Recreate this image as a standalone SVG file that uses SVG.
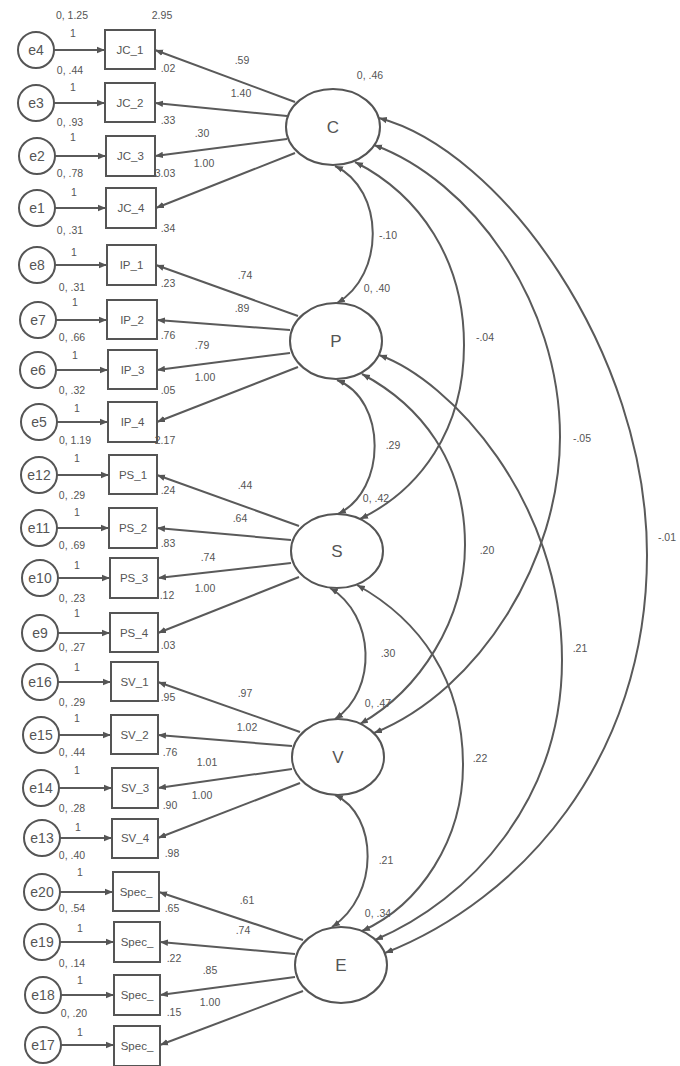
<svg xmlns="http://www.w3.org/2000/svg" width="680" height="1066" viewBox="0 0 680 1066">
<style>
text{font-family:"Liberation Sans",Arial,sans-serif;fill:#555;text-anchor:middle;dominant-baseline:central}
.n{font-size:10.5px}
.bt{font-size:11.5px}
.et{font-size:14px}
.lt{font-size:17px}
.err circle{fill:#fff;stroke:#555;stroke-width:2}
.obs rect{fill:#fff;stroke:#555;stroke-width:2}
.lat ellipse{fill:#fff;stroke:#555;stroke-width:2}
.cn line,.cn path{fill:none;stroke:#5a5a5a;stroke-width:2;marker-end:url(#ah)}
.cn .cv{marker-start:url(#ah)}
</style>
<defs>
<marker id="ah" viewBox="0 0 10 10" refX="10" refY="5" markerUnits="userSpaceOnUse" markerWidth="8" markerHeight="8" orient="auto-start-reverse"><path d="M0,1 L10,5 L0,9 z" fill="#555"/></marker>
</defs>
<rect width="680" height="1066" fill="#fff"/>

<g id="connectors" class="cn">
<!-- error to observed -->
<line x1="54" y1="50" x2="105" y2="50"/>
<line x1="54" y1="103" x2="105" y2="103"/>
<line x1="55" y1="156" x2="106" y2="156"/>
<line x1="55" y1="208" x2="106" y2="208"/>
<line x1="55" y1="265" x2="107" y2="265"/>
<line x1="56" y1="320" x2="107" y2="320"/>
<line x1="56" y1="370" x2="108" y2="370"/>
<line x1="57" y1="422" x2="108" y2="422"/>
<line x1="57" y1="475" x2="109" y2="475"/>
<line x1="57" y1="528" x2="109" y2="528"/>
<line x1="58" y1="578" x2="110" y2="578"/>
<line x1="58" y1="633" x2="110" y2="633"/>
<line x1="58" y1="682" x2="111" y2="682"/>
<line x1="59" y1="735" x2="111" y2="735"/>
<line x1="59" y1="788" x2="112" y2="788"/>
<line x1="60" y1="838" x2="112" y2="838"/>
<line x1="60" y1="892" x2="113" y2="892"/>
<line x1="60" y1="942" x2="114" y2="942"/>
<line x1="61" y1="995" x2="114" y2="995"/>
<line x1="61" y1="1045" x2="114" y2="1045"/>
<!-- loadings -->
<line x1="295" y1="102" x2="155" y2="50"/>
<line x1="287" y1="116" x2="155" y2="103"/>
<line x1="287" y1="139" x2="155" y2="156"/>
<line x1="295" y1="153" x2="156" y2="208"/>
<line x1="298" y1="316" x2="156" y2="265"/>
<line x1="290" y1="330" x2="157" y2="320"/>
<line x1="290" y1="353" x2="157" y2="370"/>
<line x1="298" y1="367" x2="157" y2="422"/>
<line x1="299" y1="526" x2="157" y2="475"/>
<line x1="291" y1="540" x2="157" y2="528"/>
<line x1="291" y1="563" x2="158" y2="578"/>
<line x1="299" y1="577" x2="158" y2="633"/>
<line x1="300" y1="732" x2="158" y2="682"/>
<line x1="292" y1="746" x2="158" y2="735"/>
<line x1="292" y1="769" x2="158" y2="788"/>
<line x1="300" y1="783" x2="158" y2="838"/>
<line x1="303" y1="940" x2="159" y2="892"/>
<line x1="295" y1="954" x2="160" y2="942"/>
<line x1="295" y1="977" x2="160" y2="995"/>
<line x1="303" y1="991" x2="160" y2="1045"/>
<!-- covariances -->
<path class="cv" d="M335,166 C385,190 385,275 337,303"/>
<path class="cv" d="M337,380 C387,400 387,490 338,514"/>
<path class="cv" d="M330,588 C375,615 378,690 335,719"/>
<path class="cv" d="M335,795 C378,815 380,895 332,927"/>
<path class="cv" d="M355,162 C420,195 464,260 464,345 C464,430 420,490 360,519"/>
<path class="cv" d="M362,374 C420,405 465,460 465,545 C465,620 420,690 360,724"/>
<path class="cv" d="M357,585 C420,620 463,680 463,765 C463,840 420,905 362,931"/>
<path class="cv" d="M374,145 C470,180 560,300 560,437 C560,560 480,690 374,733"/>
<path class="cv" d="M379,355 C450,380 562,500 562,660 C562,800 470,900 375,940"/>
<path class="cv" d="M379,118 C500,150 647,350 647,555 C647,760 520,900 385,953"/>
</g>

<g id="latents" class="lat">
<g id="C"><ellipse cx="333" cy="127" rx="47" ry="38"/><text class="lt" x="333" y="127">C</text></g>
<g id="P"><ellipse cx="336" cy="341" rx="46" ry="38"/><text class="lt" x="336" y="341">P</text></g>
<g id="S"><ellipse cx="337" cy="551" rx="46" ry="37"/><text class="lt" x="337" y="551">S</text></g>
<g id="V"><ellipse cx="338" cy="757" rx="46" ry="38"/><text class="lt" x="338" y="757">V</text></g>
<g id="E"><ellipse cx="341" cy="965" rx="46" ry="38"/><text class="lt" x="341" y="965">E</text></g>
</g>

<g id="observed" class="obs">
<g id="JC_1"><rect x="105" y="30" width="50" height="39"/><text class="bt" x="130" y="50">JC_1</text></g>
<g id="JC_2"><rect x="105" y="83" width="50" height="39"/><text class="bt" x="130" y="103">JC_2</text></g>
<g id="JC_3"><rect x="106" y="136" width="49" height="40"/><text class="bt" x="130.5" y="156">JC_3</text></g>
<g id="JC_4"><rect x="106" y="188" width="50" height="40"/><text class="bt" x="131" y="208">JC_4</text></g>
<g id="IP_1"><rect x="107" y="245" width="49" height="40"/><text class="bt" x="131.5" y="265">IP_1</text></g>
<g id="IP_2"><rect x="107" y="300" width="50" height="39"/><text class="bt" x="132" y="320">IP_2</text></g>
<g id="IP_3"><rect x="108" y="350" width="49" height="39"/><text class="bt" x="132.5" y="370">IP_3</text></g>
<g id="IP_4"><rect x="108" y="402" width="49" height="40"/><text class="bt" x="132.5" y="422">IP_4</text></g>
<g id="PS_1"><rect x="109" y="455" width="48" height="39"/><text class="bt" x="133" y="475">PS_1</text></g>
<g id="PS_2"><rect x="109" y="508" width="48" height="40"/><text class="bt" x="133" y="528">PS_2</text></g>
<g id="PS_3"><rect x="110" y="558" width="48" height="40"/><text class="bt" x="134" y="578">PS_3</text></g>
<g id="PS_4"><rect x="110" y="613" width="48" height="39"/><text class="bt" x="134" y="633">PS_4</text></g>
<g id="SV_1"><rect x="111" y="662" width="47" height="39"/><text class="bt" x="134.5" y="682">SV_1</text></g>
<g id="SV_2"><rect x="111" y="715" width="47" height="39"/><text class="bt" x="134.5" y="735">SV_2</text></g>
<g id="SV_3"><rect x="112" y="768" width="46" height="40"/><text class="bt" x="135" y="788">SV_3</text></g>
<g id="SV_4"><rect x="112" y="819" width="46" height="39"/><text class="bt" x="135" y="838">SV_4</text></g>
<g id="Spec_1"><rect x="113" y="872" width="46" height="39"/><text class="bt" x="136" y="892">Spec_</text></g>
<g id="Spec_2"><rect x="114" y="922" width="46" height="40"/><text class="bt" x="137" y="942">Spec_</text></g>
<g id="Spec_3"><rect x="114" y="975" width="46" height="40"/><text class="bt" x="137" y="995">Spec_</text></g>
<g id="Spec_4"><rect x="114" y="1026" width="46" height="40"/><text class="bt" x="137" y="1046">Spec_</text></g>
</g>

<g id="errors" class="err">
<g id="e4"><circle cx="36" cy="50" r="18"/><text class="et" x="36" y="50">e4</text></g>
<g id="e3"><circle cx="36" cy="103" r="18"/><text class="et" x="36" y="103">e3</text></g>
<g id="e2"><circle cx="37" cy="156" r="18"/><text class="et" x="37" y="156">e2</text></g>
<g id="e1"><circle cx="37" cy="208" r="18"/><text class="et" x="37" y="208">e1</text></g>
<g id="e8"><circle cx="37" cy="265" r="18"/><text class="et" x="37" y="265">e8</text></g>
<g id="e7"><circle cx="38" cy="320" r="18"/><text class="et" x="38" y="320">e7</text></g>
<g id="e6"><circle cx="38" cy="370" r="18"/><text class="et" x="38" y="370">e6</text></g>
<g id="e5"><circle cx="39" cy="422" r="18"/><text class="et" x="39" y="422">e5</text></g>
<g id="e12"><circle cx="39" cy="475" r="18"/><text class="et" x="39" y="475">e12</text></g>
<g id="e11"><circle cx="39" cy="528" r="18"/><text class="et" x="39" y="528">e11</text></g>
<g id="e10"><circle cx="40" cy="578" r="18"/><text class="et" x="40" y="578">e10</text></g>
<g id="e9"><circle cx="40" cy="633" r="18"/><text class="et" x="40" y="633">e9</text></g>
<g id="e16"><circle cx="40" cy="682" r="18"/><text class="et" x="40" y="682">e16</text></g>
<g id="e15"><circle cx="41" cy="735" r="18"/><text class="et" x="41" y="735">e15</text></g>
<g id="e14"><circle cx="41" cy="788" r="18"/><text class="et" x="41" y="788">e14</text></g>
<g id="e13"><circle cx="42" cy="838" r="18"/><text class="et" x="42" y="838">e13</text></g>
<g id="e20"><circle cx="42" cy="892" r="18"/><text class="et" x="42" y="892">e20</text></g>
<g id="e19"><circle cx="42" cy="942" r="18"/><text class="et" x="42" y="942">e19</text></g>
<g id="e18"><circle cx="43" cy="995" r="18"/><text class="et" x="43" y="995">e18</text></g>
<g id="e17"><circle cx="43" cy="1045" r="18"/><text class="et" x="43" y="1045">e17</text></g>
</g>

<g id="labels" class="n">
<!-- error variances -->
<text class="n" x="72" y="15">0, 1.25</text>
<text class="n" x="70" y="70">0, .44</text>
<text class="n" x="70" y="122">0, .93</text>
<text class="n" x="70" y="173">0, .78</text>
<text class="n" x="70" y="230">0, .31</text>
<text class="n" x="72" y="287">0, .31</text>
<text class="n" x="72" y="337">0, .66</text>
<text class="n" x="72" y="390">0, .32</text>
<text class="n" x="75" y="440">0, 1.19</text>
<text class="n" x="72" y="495">0, .29</text>
<text class="n" x="72" y="545">0, .69</text>
<text class="n" x="72" y="598">0, .23</text>
<text class="n" x="72" y="647">0, .27</text>
<text class="n" x="72" y="702">0, .29</text>
<text class="n" x="72" y="752">0, .44</text>
<text class="n" x="72" y="808">0, .28</text>
<text class="n" x="72" y="855">0, .40</text>
<text class="n" x="72" y="908">0, .54</text>
<text class="n" x="72" y="963">0, .14</text>
<text class="n" x="74" y="1013">0, .20</text>
<!-- fixed 1 -->
<text class="n" x="73" y="33">1</text>
<text class="n" x="73" y="87">1</text>
<text class="n" x="73" y="137">1</text>
<text class="n" x="74" y="192">1</text>
<text class="n" x="74" y="252">1</text>
<text class="n" x="75" y="302">1</text>
<text class="n" x="75" y="355">1</text>
<text class="n" x="77" y="408">1</text>
<text class="n" x="77" y="458">1</text>
<text class="n" x="77" y="512">1</text>
<text class="n" x="77" y="565">1</text>
<text class="n" x="77" y="613">1</text>
<text class="n" x="77" y="667">1</text>
<text class="n" x="77" y="718">1</text>
<text class="n" x="77" y="770">1</text>
<text class="n" x="78" y="827">1</text>
<text class="n" x="80" y="872">1</text>
<text class="n" x="80" y="928">1</text>
<text class="n" x="80" y="980">1</text>
<text class="n" x="80" y="1032">1</text>
<!-- intercepts -->
<text class="n" x="162" y="15">2.95</text>
<text class="n" x="168" y="68">.02</text>
<text class="n" x="168" y="120">.33</text>
<text class="n" x="165" y="173">3.03</text>
<text class="n" x="168" y="228">.34</text>
<text class="n" x="168" y="283">.23</text>
<text class="n" x="168" y="335">.76</text>
<text class="n" x="168" y="390">.05</text>
<text class="n" x="165" y="440">2.17</text>
<text class="n" x="168" y="490">.24</text>
<text class="n" x="168" y="543">.83</text>
<text class="n" x="167" y="595">.12</text>
<text class="n" x="168" y="645">.03</text>
<text class="n" x="168" y="697">.95</text>
<text class="n" x="170" y="752">.76</text>
<text class="n" x="170" y="805">.90</text>
<text class="n" x="172" y="853">.98</text>
<text class="n" x="172" y="908">.65</text>
<text class="n" x="174" y="958">.22</text>
<text class="n" x="174" y="1012">.15</text>
<!-- loadings -->
<text class="n" x="242" y="60">.59</text>
<text class="n" x="241" y="93">1.40</text>
<text class="n" x="202" y="133">.30</text>
<text class="n" x="204" y="163">1.00</text>
<text class="n" x="245" y="275">.74</text>
<text class="n" x="242" y="308">.89</text>
<text class="n" x="202" y="345">.79</text>
<text class="n" x="205" y="377">1.00</text>
<text class="n" x="245" y="485">.44</text>
<text class="n" x="240" y="518">.64</text>
<text class="n" x="208" y="557">.74</text>
<text class="n" x="205" y="588">1.00</text>
<text class="n" x="245" y="693">.97</text>
<text class="n" x="247" y="727">1.02</text>
<text class="n" x="207" y="762">1.01</text>
<text class="n" x="202" y="795">1.00</text>
<text class="n" x="247" y="900">.61</text>
<text class="n" x="243" y="930">.74</text>
<text class="n" x="210" y="970">.85</text>
<text class="n" x="210" y="1002">1.00</text>
<!-- latent variances -->
<text class="n" x="370" y="75">0, .46</text>
<text class="n" x="377" y="288">0, .40</text>
<text class="n" x="376" y="498">0, .42</text>
<text class="n" x="378" y="703">0, .47</text>
<text class="n" x="378" y="913">0, .34</text>
<!-- covariances -->
<text class="n" x="388" y="235">-.10</text>
<text class="n" x="393" y="445">.29</text>
<text class="n" x="388" y="653">.30</text>
<text class="n" x="386" y="860">.21</text>
<text class="n" x="485" y="337">-.04</text>
<text class="n" x="487" y="550">.20</text>
<text class="n" x="480" y="758">.22</text>
<text class="n" x="582" y="438">-.05</text>
<text class="n" x="580" y="648">.21</text>
<text class="n" x="667" y="537">-.01</text>
</g>
</svg>
